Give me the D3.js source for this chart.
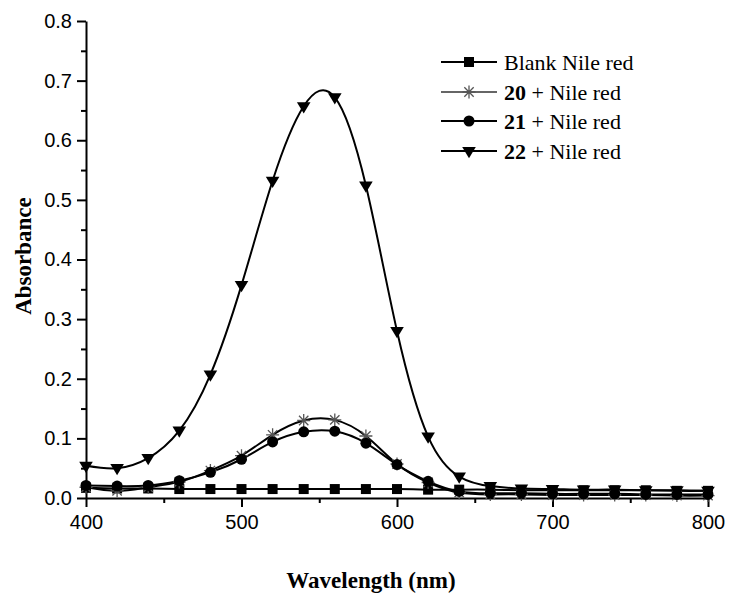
<!DOCTYPE html>
<html>
<head>
<meta charset="utf-8">
<script src="https://cdn.jsdelivr.net/npm/d3@7"></script>
<style>
  html, body { margin: 0; padding: 0; background: #fff; }
  svg { display: block; }
</style>
</head>
<body>
<svg id="chart" width="729" height="596"></svg>
<script>
// Absorption spectra of Nile red alone and with compounds 20, 21, 22
const wavelengths = [400, 420, 440, 460, 480, 500, 520, 540, 560, 580, 600,
                     620, 640, 660, 680, 700, 720, 740, 760, 780, 800];
const blankNileRed = [0.017, 0.016, 0.016, 0.015, 0.015, 0.015, 0.015, 0.015, 0.015, 0.015, 0.015,
                      0.014, 0.014, 0.014, 0.013, 0.013, 0.013, 0.013, 0.013, 0.012, 0.012];
const nileRed20 = [0.018, 0.012, 0.018, 0.027, 0.046, 0.071, 0.106, 0.130, 0.131, 0.104, 0.057,
                   0.026, 0.009, 0.006, 0.006, 0.005, 0.005, 0.005, 0.005, 0.004, 0.004];
const nileRed21 = [0.021, 0.020, 0.021, 0.029, 0.043, 0.065, 0.094, 0.111, 0.112, 0.092, 0.056,
                   0.028, 0.011, 0.008, 0.008, 0.007, 0.007, 0.007, 0.006, 0.006, 0.006];
const nileRed22 = [0.054, 0.050, 0.067, 0.113, 0.207, 0.357, 0.532, 0.657, 0.672, 0.524, 0.280,
                   0.103, 0.036, 0.020, 0.016, 0.015, 0.014, 0.014, 0.013, 0.013, 0.012];

const xMajorTicks = [400, 500, 600, 700, 800];
const xMinorTicks = [450, 550, 650, 750];
const yMajorTicks = [0.0, 0.1, 0.2, 0.3, 0.4, 0.5, 0.6, 0.7, 0.8];
const yMinorTicks = [0.05, 0.15, 0.25, 0.35, 0.45, 0.55, 0.65, 0.75];

const seriesNames = ["Blank Nile red", "20", "21", "22"];
const seriesMarkers = ["square", "asterisk", "circle", "triangle"];

const series = [
  { name: seriesNames[0], bold: null, values: blankNileRed, marker: seriesMarkers[0] },
  { name: seriesNames[1], bold: "20", values: nileRed20, marker: seriesMarkers[1] },
  { name: seriesNames[2], bold: "21", values: nileRed21, marker: seriesMarkers[2] },
  { name: seriesNames[3], bold: "22", values: nileRed22, marker: seriesMarkers[3] }
];

const svg = d3.select("#chart");
const plotLeft = 86, plotRight = 708, plotTop = 21, plotBottom = 498;

const x = d3.scaleLinear().domain([400, 800]).range([plotLeft, plotRight]);
const y = d3.scaleLinear().domain([0, 0.8]).range([plotBottom, plotTop]);

const sans = "'Liberation Sans', Arial, sans-serif";
const serif = "'Liberation Serif', 'Times New Roman', serif";

// Axes: major ticks with labels, minor ticks without
const xAxis = svg.append("g").attr("transform", `translate(0,${plotBottom})`)
  .call(d3.axisBottom(x).tickValues(xMajorTicks).tickSize(9).tickSizeOuter(0).tickPadding(4)
        .tickFormat(d3.format("d")));
svg.append("g").attr("transform", `translate(0,${plotBottom})`)
  .call(d3.axisBottom(x).tickValues(xMinorTicks).tickSize(5).tickFormat(""))
  .select(".domain").remove();

const yAxis = svg.append("g").attr("transform", `translate(${plotLeft},0)`)
  .call(d3.axisLeft(y).tickValues(yMajorTicks).tickSize(9).tickSizeOuter(0).tickPadding(5)
        .tickFormat(d3.format(".1f")));
svg.append("g").attr("transform", `translate(${plotLeft},0)`)
  .call(d3.axisLeft(y).tickValues(yMinorTicks).tickSize(5).tickFormat(""))
  .select(".domain").remove();

svg.selectAll(".domain").attr("stroke", "#000").attr("stroke-width", 2);
svg.selectAll(".tick line").attr("stroke", "#000").attr("stroke-width", 2);
svg.selectAll(".tick text").attr("font-family", sans).attr("font-size", 20).attr("fill", "#000");
xAxis.selectAll(".tick text").attr("dy", "0.9em");

// Axis titles
svg.append("text")
  .attr("x", 371).attr("y", 588)
  .attr("text-anchor", "middle")
  .attr("font-family", serif).attr("font-weight", "bold").attr("font-size", 23)
  .text("Wavelength (nm)");
svg.append("text")
  .attr("transform", "translate(31,256) rotate(-90)")
  .attr("text-anchor", "middle")
  .attr("font-family", serif).attr("font-weight", "bold").attr("font-size", 23)
  .text("Absorbance");

// Marker drawing
function drawMarker(g, type, cx, cy) {
  if (type === "square") {
    g.append("rect").attr("x", cx - 5).attr("y", cy - 5).attr("width", 10).attr("height", 10)
      .attr("fill", "#000");
  } else if (type === "circle") {
    g.append("circle").attr("cx", cx).attr("cy", cy).attr("r", 5.5).attr("fill", "#000");
  } else if (type === "triangle") {
    const s = 6.8;
    g.append("path")
      .attr("d", `M${cx - s},${cy - s * 0.6}L${cx + s},${cy - s * 0.6}L${cx},${cy + s * 1.05}Z`)
      .attr("fill", "#000");
  } else if (type === "asterisk") {
    const r = 6.5, d = r * 0.72;
    g.append("path")
      .attr("d", `M${cx - r},${cy}L${cx + r},${cy}M${cx},${cy - r}L${cx},${cy + r}` +
                 `M${cx - d},${cy - d}L${cx + d},${cy + d}M${cx - d},${cy + d}L${cx + d},${cy - d}`)
      .attr("stroke", "#555").attr("stroke-width", 1.3).attr("fill", "none");
  }
}

const line = d3.line()
  .x((d, i) => x(wavelengths[i]))
  .y(d => y(d))
  .curve(d3.curveNatural);

const plot = svg.append("g");
series.forEach(s => {
  plot.append("path")
    .attr("d", line(s.values))
    .attr("fill", "none")
    .attr("stroke", "#000")
    .attr("stroke-width", 2);
});
series.forEach(s => {
  const mg = plot.append("g");
  s.values.forEach((v, i) => drawMarker(mg, s.marker, x(wavelengths[i]), y(v)));
});

// Legend
const legend = svg.append("g");
const legendRows = [62, 92, 121, 151];
series.forEach((s, i) => {
  const cy = legendRows[i];
  legend.append("line").attr("x1", 441).attr("x2", 497).attr("y1", cy).attr("y2", cy)
    .attr("stroke", s.marker === "asterisk" ? "#333" : "#000")
    .attr("stroke-width", s.marker === "asterisk" ? 1.5 : 2.2);
  drawMarker(legend, s.marker, 469, cy);
  const t = legend.append("text").attr("x", 504).attr("y", cy + 8)
    .attr("font-family", serif).attr("font-size", 22).attr("fill", "#000");
  if (s.bold) {
    t.append("tspan").attr("font-weight", "bold").text(s.bold);
    t.append("tspan").text(" + Nile red");
  } else {
    t.text(s.name);
  }
});
</script>
</body>
</html>
